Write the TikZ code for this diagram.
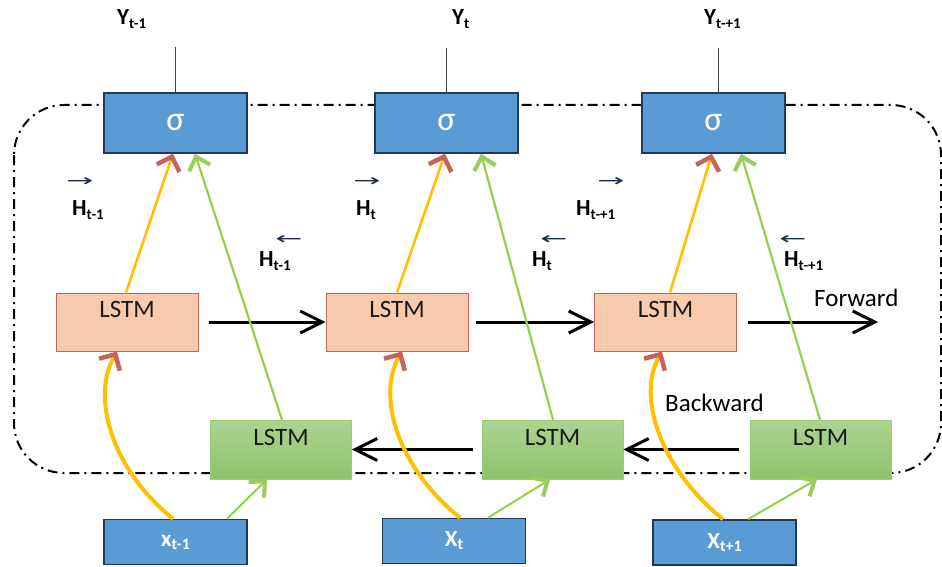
\documentclass[tikz,border=0pt]{standalone}
\usepackage{fontspec}
\setmainfont{Carlito}
\newfontfamily\arrowfont{DejaVu Sans}
\usetikzlibrary{arrows.meta}
\definecolor{boxblue}{HTML}{5B9BD5}
\definecolor{boxblueline}{HTML}{1F3B5C}
\definecolor{pinkfill}{HTML}{F8CBAD}
\definecolor{pinkline}{HTML}{C9625B}
\definecolor{greentop}{HTML}{ACD492}
\definecolor{greenbot}{HTML}{8EC26B}
\definecolor{greenedge}{HTML}{9ACB78}
\definecolor{orangeline}{HTML}{FFC000}
\definecolor{redtip}{HTML}{C8625A}
\definecolor{greenline}{HTML}{92D050}
\definecolor{greentip}{HTML}{9CCB5E}
\definecolor{navy}{HTML}{1F2D4F}
\newcommand{\lbl}[4]{{\bfseries #1}\raisebox{-#3}{\fontsize{#4}{#4}\selectfont\bfseries #2}}
\newcommand{\vecR}{{\arrowfont\scalebox{1.9}[1]{→}}}
\newcommand{\vecL}{{\arrowfont\scalebox{1.9}[1]{←}}}
\begin{document}
\begin{tikzpicture}[x=1pt,y=-1pt,
  sigbox/.style={draw=boxblueline,line width=1.5pt,fill=boxblue,minimum width=143pt,minimum height=60pt,inner sep=0pt,text=white,font=\fontsize{34}{34}\selectfont},
  xbox/.style={draw=boxblueline,line width=1.5pt,fill=boxblue,minimum width=143pt,minimum height=45pt,inner sep=0pt,text=white,font=\fontsize{23}{23}\selectfont},
  pinkbox/.style={draw=pinkline,line width=1pt,fill=pinkfill,minimum width=142pt,minimum height=58pt,inner sep=0pt,text height=16pt,text depth=26pt,font=\fontsize{25}{25}\selectfont,text=black!90},
  greenbox/.style={draw=greenedge,line width=0.6pt,top color=greentop,bottom color=greenbot,minimum width=141pt,minimum height=59pt,inner sep=0pt,text height=16pt,text depth=25pt,font=\fontsize{25}{25}\selectfont,text=black!90},
  frame/.style={draw=black,line width=2pt,dash pattern=on 10pt off 5pt on 2pt off 5pt,rounded corners=50pt},
  yline/.style={draw=black!75,line width=1pt},
  orarrow/.style={draw=orangeline,line width=2.6pt,-{Straight Barb[length=12pt,width=24pt,line width=4.5pt,color=redtip]}},
  orcurve/.style={draw=orangeline,line width=4pt,-{Straight Barb[length=12pt,width=24pt,line width=4.5pt,color=redtip]}},
  grarrow/.style={draw=greenline,line width=2.2pt,-{Straight Barb[length=12pt,width=22pt,line width=4pt,color=greentip]}},
  grthin/.style={draw=greenline,line width=2pt,-{Straight Barb[length=12pt,width=22pt,line width=4pt,color=greentip]}},
  blkarrow/.style={draw=black,line width=3pt,-{Straight Barb[length=22pt,width=22pt,line width=3pt]}},
  ylab/.style={anchor=base west,inner sep=0pt,font=\fontsize{23}{23}\selectfont},
  hlab/.style={anchor=base west,inner sep=0pt,font=\fontsize{23}{23}\selectfont},
  vecarrow/.style={inner sep=0pt,text=navy,font=\fontsize{17}{17}\selectfont},
  dirlab/.style={anchor=base west,inner sep=0pt,font=\fontsize{25}{25}\selectfont}
]
\useasboundingbox (0,0) rectangle (942,567);
% frame
\draw[frame] (14,105) rectangle (941,473);
% output boxes
\node[sigbox] (s1) at (175.5,123) {σ};
\node[sigbox] (s2) at (446.5,123) {σ};
\node[sigbox] (s3) at (713.5,123) {σ};
% forward LSTM
\node[pinkbox] (p1) at (127,322) {LSTM};
\node[pinkbox] (p2) at (397,322) {LSTM};
\node[pinkbox] (p3) at (665.5,322) {LSTM};
% backward LSTM
\node[greenbox] (g1) at (281,449.5) {LSTM};
\node[greenbox] (g2) at (552.5,449.5) {LSTM};
\node[greenbox] (g3) at (820.5,449.5) {LSTM};
% inputs
\node[xbox] (x1) at (175.5,542) {\lbl{x}{t-1}{3pt}{16}};
\node[xbox] (x2) at (454,541) {\lbl{X}{t}{3pt}{16}};
\node[xbox] (x3) at (724.5,542.5) {\lbl{X}{t+1}{3pt}{16}};
% output labels
\node[ylab] (y1) at (117,25) {\lbl{Y}{t-1}{4pt}{15}};
\node[ylab] (y2) at (452,25) {\lbl{Y}{t}{4pt}{15}};
\node[ylab] (y3) at (704,25) {\lbl{Y}{t-+1}{4pt}{15}};
\coordinate (ye1) at (175,47);
\coordinate (ye2) at (446,48);
\coordinate (ye3) at (718,48);
\draw[yline] ([xshift=-0.5pt]s1.north) -- (ye1);
\draw[yline] ([xshift=-0.5pt]s2.north) -- (ye2);
\draw[yline] ([xshift=4.5pt]s3.north) -- (ye3);
% hidden-state labels
\node[vecarrow] (fa1) at (80,182) {\vecR};
\node[vecarrow] (fa2) at (367,182) {\vecR};
\node[vecarrow] (fa3) at (611,182) {\vecR};
\node[vecarrow] (ba1) at (289,240) {\vecL};
\node[vecarrow] (ba2) at (554,240) {\vecL};
\node[vecarrow] (ba3) at (793,240) {\vecL};
\node[hlab] (hf1) at (72,215) {\lbl{H}{t-1}{4pt}{15}};
\node[hlab] (hf2) at (356,215) {\lbl{H}{t}{4pt}{15}};
\node[hlab] (hf3) at (576,215) {\lbl{H}{t-+1}{4pt}{15}};
\node[hlab] (hb1) at (259,266) {\lbl{H}{t-1}{4pt}{15}};
\node[hlab] (hb2) at (532,266) {\lbl{H}{t}{4pt}{15}};
\node[hlab] (hb3) at (784,266) {\lbl{H}{t-+1}{4pt}{15}};
% direction labels
\node[dirlab] (fw) at (814,306) {Forward};
\node[dirlab] (bw) at (665,411) {Backward};
% forward chain
\coordinate (fwdend) at (878,322);
\draw[blkarrow] ([xshift=10pt]p1.east) -- (p2.west);
\draw[blkarrow] ([xshift=7pt]p2.east) -- (p3.west);
\draw[blkarrow] ([xshift=11pt]p3.east) -- (fwdend);
% backward chain
\draw[blkarrow] ([xshift=-9pt]g2.west) -- (g1.east);
\draw[blkarrow] ([xshift=-11pt]g3.west) -- (g2.east);
% LSTM to output
\draw[orarrow] ([xshift=-1pt]p1.north) -- ([xshift=-2.5pt]s1.south);
\draw[orarrow] ([xshift=0pt]p2.north) -- ([xshift=-1.5pt]s2.south);
\draw[orarrow] ([xshift=4.5pt]p3.north) -- ([xshift=-1.5pt]s3.south);
\draw[grarrow] ([xshift=1pt]g1.north) -- ([xshift=19.5pt]s1.south);
\draw[grarrow] ([xshift=0.5pt]g2.north) -- ([xshift=34.5pt]s2.south);
\draw[grarrow] ([xshift=-0.5pt]g3.north) -- ([xshift=27.5pt]s3.south);
% inputs to forward LSTM
\draw[orcurve] ([xshift=-2.5pt]x1.north) .. controls +(-62,-50) and +(-26,45) .. ([xshift=-10pt]p1.south);
\draw[orcurve] ([xshift=6pt]x2.north) .. controls +(-62,-50) and +(-26,45) .. ([xshift=5pt]p2.south);
\draw[orcurve] ([xshift=-1.5pt]x3.north) .. controls +(-62,-50) and +(-26,45) .. ([xshift=-3.5pt]p3.south);
% inputs to backward LSTM
\draw[grthin] ([xshift=51.5pt]x1.north) -- ([xshift=-14pt]g1.south);
\draw[grthin] ([xshift=34pt]x2.north) -- ([xshift=-2.5pt]g2.south);
\draw[grthin] ([xshift=23.5pt]x3.north) -- ([xshift=-3.5pt]g3.south);
\end{tikzpicture}
\end{document}
